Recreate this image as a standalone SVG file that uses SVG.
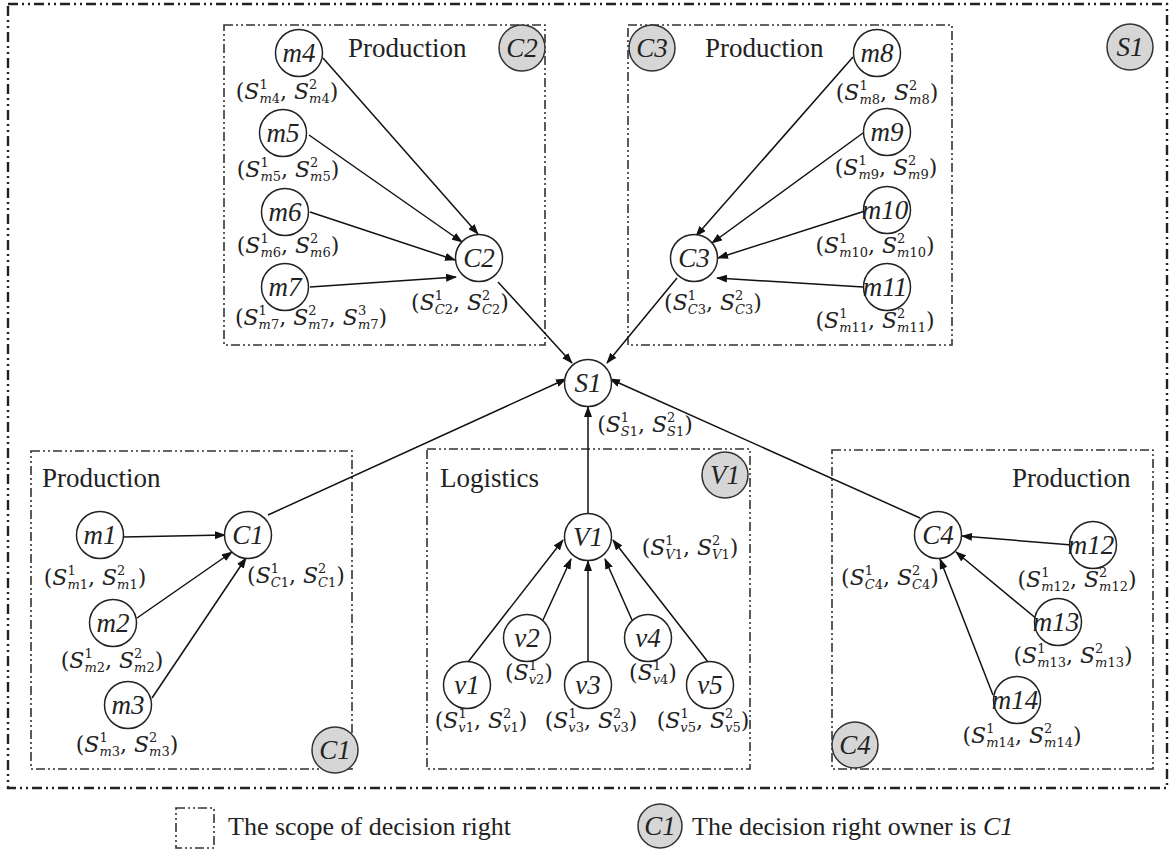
<svg xmlns="http://www.w3.org/2000/svg" width="1172" height="852" viewBox="0 0 1172 852">
<style>
.bg{fill:#fff}
.outer{fill:none;stroke:#222;stroke-width:2.4;stroke-dasharray:10 4 2 4 2 4}
.box{fill:none;stroke:#333;stroke-width:1.6;stroke-dasharray:9 3 2 3 2 3}
.nd{fill:#fff;stroke:#222;stroke-width:1.5}
.bd{fill:#d6d6d6;stroke:#333;stroke-width:1.5}
.nt{font-family:"Liberation Serif",serif;font-style:italic;font-size:27px;text-anchor:middle;fill:#222}
.tt{font-family:"Liberation Serif",serif;font-size:27px;fill:#222}
.lg{font-family:"Liberation Serif",serif;font-size:26px;fill:#222}
.lab{font-family:"DejaVu Serif",serif;font-size:22px;text-anchor:middle;fill:#222}
.i{font-style:italic}
.s{font-size:13px}
.e{fill:none;stroke:#111;stroke-width:1.5;marker-end:url(#ah)}
</style>
<defs>
<marker id="ah" markerWidth="11" markerHeight="8" refX="10" refY="4" orient="auto" markerUnits="userSpaceOnUse"><path d="M0,0 L11,4 L0,8 z" fill="#111"/></marker>
</defs>
<rect class="bg" x="0" y="0" width="1172" height="852"/>
<rect id="scope-S1" class="outer" x="8" y="4" width="1159" height="784"/>
<g id="scopes">
<rect id="scope-C2" class="box" x="224" y="25" width="321" height="320"/>
<rect id="scope-C3" class="box" x="628" y="25" width="324" height="320"/>
<rect id="scope-C1" class="box" x="31" y="451" width="321" height="318"/>
<rect id="scope-V1" class="box" x="427" y="449" width="323" height="320"/>
<rect id="scope-C4" class="box" x="832" y="450" width="321" height="319"/>
</g>
<g id="titles">
<text class="tt" x="348" y="57">Production</text>
<text class="tt" x="705" y="57">Production</text>
<text class="tt" x="42" y="487">Production</text>
<text class="tt" x="440" y="487">Logistics</text>
<text class="tt" x="1012" y="487">Production</text>
</g>
<g id="connectors">
<line class="e" x1="323" y1="58" x2="478" y2="234"/>
<line class="e" x1="309" y1="135" x2="462" y2="242"/>
<line class="e" x1="310" y1="212" x2="455" y2="260"/>
<line class="e" x1="310" y1="287" x2="456" y2="277"/>
<line class="e" x1="498" y1="282" x2="572" y2="363"/>
<line class="e" x1="853" y1="57" x2="696" y2="236"/>
<line class="e" x1="863" y1="133" x2="712" y2="243"/>
<line class="e" x1="865" y1="211" x2="718" y2="258"/>
<line class="e" x1="863" y1="287" x2="717" y2="278"/>
<line class="e" x1="677" y1="278" x2="607" y2="363"/>
<line class="e" x1="123" y1="537" x2="225" y2="535"/>
<line class="e" x1="137" y1="618" x2="232" y2="552"/>
<line class="e" x1="152" y1="698" x2="246" y2="558"/>
<line class="e" x1="268" y1="515" x2="566" y2="379"/>
<line class="e" x1="468" y1="662" x2="563" y2="540"/>
<line class="e" x1="543" y1="620" x2="571" y2="559"/>
<line class="e" x1="588" y1="662" x2="588" y2="561"/>
<line class="e" x1="632" y1="620" x2="605" y2="559"/>
<line class="e" x1="708" y1="662" x2="613" y2="540"/>
<line class="e" x1="588" y1="514" x2="588" y2="407"/>
<line class="e" x1="1072" y1="545" x2="962" y2="536"/>
<line class="e" x1="1038" y1="620" x2="956" y2="552"/>
<line class="e" x1="993" y1="695" x2="940" y2="559"/>
<line class="e" x1="920" y1="518" x2="610" y2="379"/>
</g>
<g id="node-m4"><circle class="nd" cx="299" cy="53" r="23.5"/><text class="nt" x="299" y="62">m4</text>
<text class="lab" x="287" y="99">(<tspan class="i">S</tspan><tspan class="s" dy="-10">1</tspan><tspan class="s" dx="-8.3" dy="14"><tspan class="i">m</tspan>4</tspan><tspan dy="-4">, </tspan><tspan class="i">S</tspan><tspan class="s" dy="-10">2</tspan><tspan class="s" dx="-8.3" dy="14"><tspan class="i">m</tspan>4</tspan><tspan dy="-4">)</tspan></text></g>
<g id="node-m5"><circle class="nd" cx="283" cy="133" r="23.5"/><text class="nt" x="283" y="142">m5</text>
<text class="lab" x="288" y="177">(<tspan class="i">S</tspan><tspan class="s" dy="-10">1</tspan><tspan class="s" dx="-8.3" dy="14"><tspan class="i">m</tspan>5</tspan><tspan dy="-4">, </tspan><tspan class="i">S</tspan><tspan class="s" dy="-10">2</tspan><tspan class="s" dx="-8.3" dy="14"><tspan class="i">m</tspan>5</tspan><tspan dy="-4">)</tspan></text></g>
<g id="node-m6"><circle class="nd" cx="285" cy="212" r="23.5"/><text class="nt" x="285" y="221">m6</text>
<text class="lab" x="288" y="253">(<tspan class="i">S</tspan><tspan class="s" dy="-10">1</tspan><tspan class="s" dx="-8.3" dy="14"><tspan class="i">m</tspan>6</tspan><tspan dy="-4">, </tspan><tspan class="i">S</tspan><tspan class="s" dy="-10">2</tspan><tspan class="s" dx="-8.3" dy="14"><tspan class="i">m</tspan>6</tspan><tspan dy="-4">)</tspan></text></g>
<g id="node-m7"><circle class="nd" cx="285" cy="287" r="23.5"/><text class="nt" x="285" y="296">m7</text>
<text class="lab" x="311" y="325">(<tspan class="i">S</tspan><tspan class="s" dy="-10">1</tspan><tspan class="s" dx="-8.3" dy="14"><tspan class="i">m</tspan>7</tspan><tspan dy="-4">, </tspan><tspan class="i">S</tspan><tspan class="s" dy="-10">2</tspan><tspan class="s" dx="-8.3" dy="14"><tspan class="i">m</tspan>7</tspan><tspan dy="-4">, </tspan><tspan class="i">S</tspan><tspan class="s" dy="-10">3</tspan><tspan class="s" dx="-8.3" dy="14"><tspan class="i">m</tspan>7</tspan><tspan dy="-4">)</tspan></text></g>
<g id="node-C2"><circle class="nd" cx="479" cy="258" r="23.5"/><text class="nt" x="479" y="267">C2</text>
<text class="lab" x="460" y="310">(<tspan class="i">S</tspan><tspan class="s" dy="-10">1</tspan><tspan class="s" dx="-8.3" dy="14"><tspan class="i">C</tspan>2</tspan><tspan dy="-4">, </tspan><tspan class="i">S</tspan><tspan class="s" dy="-10">2</tspan><tspan class="s" dx="-8.3" dy="14"><tspan class="i">C</tspan>2</tspan><tspan dy="-4">)</tspan></text></g>
<g id="node-m8"><circle class="nd" cx="877" cy="53" r="23.5"/><text class="nt" x="877" y="62">m8</text>
<text class="lab" x="887" y="100">(<tspan class="i">S</tspan><tspan class="s" dy="-10">1</tspan><tspan class="s" dx="-8.3" dy="14"><tspan class="i">m</tspan>8</tspan><tspan dy="-4">, </tspan><tspan class="i">S</tspan><tspan class="s" dy="-10">2</tspan><tspan class="s" dx="-8.3" dy="14"><tspan class="i">m</tspan>8</tspan><tspan dy="-4">)</tspan></text></g>
<g id="node-m9"><circle class="nd" cx="887" cy="132" r="23.5"/><text class="nt" x="887" y="141">m9</text>
<text class="lab" x="886" y="175">(<tspan class="i">S</tspan><tspan class="s" dy="-10">1</tspan><tspan class="s" dx="-8.3" dy="14"><tspan class="i">m</tspan>9</tspan><tspan dy="-4">, </tspan><tspan class="i">S</tspan><tspan class="s" dy="-10">2</tspan><tspan class="s" dx="-8.3" dy="14"><tspan class="i">m</tspan>9</tspan><tspan dy="-4">)</tspan></text></g>
<g id="node-m10"><circle class="nd" cx="887" cy="210" r="23.5"/><text class="nt" x="885" y="219">m10</text>
<text class="lab" x="875" y="253">(<tspan class="i">S</tspan><tspan class="s" dy="-10">1</tspan><tspan class="s" dx="-8.3" dy="14"><tspan class="i">m</tspan>10</tspan><tspan dy="-4">, </tspan><tspan class="i">S</tspan><tspan class="s" dy="-10">2</tspan><tspan class="s" dx="-8.3" dy="14"><tspan class="i">m</tspan>10</tspan><tspan dy="-4">)</tspan></text></g>
<g id="node-m11"><circle class="nd" cx="887" cy="287" r="23.5"/><text class="nt" x="885" y="296">m11</text>
<text class="lab" x="875" y="328">(<tspan class="i">S</tspan><tspan class="s" dy="-10">1</tspan><tspan class="s" dx="-8.3" dy="14"><tspan class="i">m</tspan>11</tspan><tspan dy="-4">, </tspan><tspan class="i">S</tspan><tspan class="s" dy="-10">2</tspan><tspan class="s" dx="-8.3" dy="14"><tspan class="i">m</tspan>11</tspan><tspan dy="-4">)</tspan></text></g>
<g id="node-C3"><circle class="nd" cx="694" cy="258" r="23.5"/><text class="nt" x="694" y="267">C3</text>
<text class="lab" x="713" y="310">(<tspan class="i">S</tspan><tspan class="s" dy="-10">1</tspan><tspan class="s" dx="-8.3" dy="14"><tspan class="i">C</tspan>3</tspan><tspan dy="-4">, </tspan><tspan class="i">S</tspan><tspan class="s" dy="-10">2</tspan><tspan class="s" dx="-8.3" dy="14"><tspan class="i">C</tspan>3</tspan><tspan dy="-4">)</tspan></text></g>
<g id="node-S1"><circle class="nd" cx="588" cy="383" r="23.5"/><text class="nt" x="588" y="392">S1</text>
<text class="lab" x="645" y="432">(<tspan class="i">S</tspan><tspan class="s" dy="-10">1</tspan><tspan class="s" dx="-8.3" dy="14"><tspan class="i">S</tspan>1</tspan><tspan dy="-4">, </tspan><tspan class="i">S</tspan><tspan class="s" dy="-10">2</tspan><tspan class="s" dx="-8.3" dy="14"><tspan class="i">S</tspan>1</tspan><tspan dy="-4">)</tspan></text></g>
<g id="node-m1"><circle class="nd" cx="100" cy="535" r="23.5"/><text class="nt" x="100" y="544">m1</text>
<text class="lab" x="95" y="585">(<tspan class="i">S</tspan><tspan class="s" dy="-10">1</tspan><tspan class="s" dx="-8.3" dy="14"><tspan class="i">m</tspan>1</tspan><tspan dy="-4">, </tspan><tspan class="i">S</tspan><tspan class="s" dy="-10">2</tspan><tspan class="s" dx="-8.3" dy="14"><tspan class="i">m</tspan>1</tspan><tspan dy="-4">)</tspan></text></g>
<g id="node-m2"><circle class="nd" cx="113" cy="623" r="23.5"/><text class="nt" x="113" y="632">m2</text>
<text class="lab" x="112" y="668">(<tspan class="i">S</tspan><tspan class="s" dy="-10">1</tspan><tspan class="s" dx="-8.3" dy="14"><tspan class="i">m</tspan>2</tspan><tspan dy="-4">, </tspan><tspan class="i">S</tspan><tspan class="s" dy="-10">2</tspan><tspan class="s" dx="-8.3" dy="14"><tspan class="i">m</tspan>2</tspan><tspan dy="-4">)</tspan></text></g>
<g id="node-m3"><circle class="nd" cx="128" cy="705" r="23.5"/><text class="nt" x="128" y="714">m3</text>
<text class="lab" x="127" y="752">(<tspan class="i">S</tspan><tspan class="s" dy="-10">1</tspan><tspan class="s" dx="-8.3" dy="14"><tspan class="i">m</tspan>3</tspan><tspan dy="-4">, </tspan><tspan class="i">S</tspan><tspan class="s" dy="-10">2</tspan><tspan class="s" dx="-8.3" dy="14"><tspan class="i">m</tspan>3</tspan><tspan dy="-4">)</tspan></text></g>
<g id="node-C1"><circle class="nd" cx="248" cy="535" r="23.5"/><text class="nt" x="248" y="544">C1</text>
<text class="lab" x="296" y="583">(<tspan class="i">S</tspan><tspan class="s" dy="-10">1</tspan><tspan class="s" dx="-8.3" dy="14"><tspan class="i">C</tspan>1</tspan><tspan dy="-4">, </tspan><tspan class="i">S</tspan><tspan class="s" dy="-10">2</tspan><tspan class="s" dx="-8.3" dy="14"><tspan class="i">C</tspan>1</tspan><tspan dy="-4">)</tspan></text></g>
<g id="node-V1"><circle class="nd" cx="588" cy="537" r="23.5"/><text class="nt" x="588" y="546">V1</text>
<text class="lab" x="690" y="555">(<tspan class="i">S</tspan><tspan class="s" dy="-10">1</tspan><tspan class="s" dx="-8.3" dy="14"><tspan class="i">V</tspan>1</tspan><tspan dy="-4">, </tspan><tspan class="i">S</tspan><tspan class="s" dy="-10">2</tspan><tspan class="s" dx="-8.3" dy="14"><tspan class="i">V</tspan>1</tspan><tspan dy="-4">)</tspan></text></g>
<g id="node-v1"><circle class="nd" cx="467" cy="685" r="23.5"/><text class="nt" x="467" y="694">v1</text>
<text class="lab" x="481" y="728">(<tspan class="i">S</tspan><tspan class="s" dy="-10">1</tspan><tspan class="s" dx="-8.3" dy="14"><tspan class="i">v</tspan>1</tspan><tspan dy="-4">, </tspan><tspan class="i">S</tspan><tspan class="s" dy="-10">2</tspan><tspan class="s" dx="-8.3" dy="14"><tspan class="i">v</tspan>1</tspan><tspan dy="-4">)</tspan></text></g>
<g id="node-v2"><circle class="nd" cx="527" cy="638" r="23.5"/><text class="nt" x="527" y="647">v2</text>
<text class="lab" x="529" y="680">(<tspan class="i">S</tspan><tspan class="s" dy="-10">1</tspan><tspan class="s" dx="-8.3" dy="14"><tspan class="i">v</tspan>2</tspan><tspan dy="-4">)</tspan></text></g>
<g id="node-v3"><circle class="nd" cx="588" cy="685" r="23.5"/><text class="nt" x="588" y="694">v3</text>
<text class="lab" x="591" y="728">(<tspan class="i">S</tspan><tspan class="s" dy="-10">1</tspan><tspan class="s" dx="-8.3" dy="14"><tspan class="i">v</tspan>3</tspan><tspan dy="-4">, </tspan><tspan class="i">S</tspan><tspan class="s" dy="-10">2</tspan><tspan class="s" dx="-8.3" dy="14"><tspan class="i">v</tspan>3</tspan><tspan dy="-4">)</tspan></text></g>
<g id="node-v4"><circle class="nd" cx="648" cy="638" r="23.5"/><text class="nt" x="648" y="647">v4</text>
<text class="lab" x="653" y="680">(<tspan class="i">S</tspan><tspan class="s" dy="-10">1</tspan><tspan class="s" dx="-8.3" dy="14"><tspan class="i">v</tspan>4</tspan><tspan dy="-4">)</tspan></text></g>
<g id="node-v5"><circle class="nd" cx="710" cy="685" r="23.5"/><text class="nt" x="710" y="694">v5</text>
<text class="lab" x="703" y="728">(<tspan class="i">S</tspan><tspan class="s" dy="-10">1</tspan><tspan class="s" dx="-8.3" dy="14"><tspan class="i">v</tspan>5</tspan><tspan dy="-4">, </tspan><tspan class="i">S</tspan><tspan class="s" dy="-10">2</tspan><tspan class="s" dx="-8.3" dy="14"><tspan class="i">v</tspan>5</tspan><tspan dy="-4">)</tspan></text></g>
<g id="node-C4"><circle class="nd" cx="938" cy="535" r="23.5"/><text class="nt" x="938" y="544">C4</text>
<text class="lab" x="890" y="585">(<tspan class="i">S</tspan><tspan class="s" dy="-10">1</tspan><tspan class="s" dx="-8.3" dy="14"><tspan class="i">C</tspan>4</tspan><tspan dy="-4">, </tspan><tspan class="i">S</tspan><tspan class="s" dy="-10">2</tspan><tspan class="s" dx="-8.3" dy="14"><tspan class="i">C</tspan>4</tspan><tspan dy="-4">)</tspan></text></g>
<g id="node-m12"><circle class="nd" cx="1093" cy="545" r="23.5"/><text class="nt" x="1091" y="554">m12</text>
<text class="lab" x="1077" y="587">(<tspan class="i">S</tspan><tspan class="s" dy="-10">1</tspan><tspan class="s" dx="-8.3" dy="14"><tspan class="i">m</tspan>12</tspan><tspan dy="-4">, </tspan><tspan class="i">S</tspan><tspan class="s" dy="-10">2</tspan><tspan class="s" dx="-8.3" dy="14"><tspan class="i">m</tspan>12</tspan><tspan dy="-4">)</tspan></text></g>
<g id="node-m13"><circle class="nd" cx="1058" cy="622" r="23.5"/><text class="nt" x="1056" y="631">m13</text>
<text class="lab" x="1073" y="663">(<tspan class="i">S</tspan><tspan class="s" dy="-10">1</tspan><tspan class="s" dx="-8.3" dy="14"><tspan class="i">m</tspan>13</tspan><tspan dy="-4">, </tspan><tspan class="i">S</tspan><tspan class="s" dy="-10">2</tspan><tspan class="s" dx="-8.3" dy="14"><tspan class="i">m</tspan>13</tspan><tspan dy="-4">)</tspan></text></g>
<g id="node-m14"><circle class="nd" cx="1017" cy="700" r="23.5"/><text class="nt" x="1015" y="709">m14</text>
<text class="lab" x="1022" y="743">(<tspan class="i">S</tspan><tspan class="s" dy="-10">1</tspan><tspan class="s" dx="-8.3" dy="14"><tspan class="i">m</tspan>14</tspan><tspan dy="-4">, </tspan><tspan class="i">S</tspan><tspan class="s" dy="-10">2</tspan><tspan class="s" dx="-8.3" dy="14"><tspan class="i">m</tspan>14</tspan><tspan dy="-4">)</tspan></text></g>
<g id="owner-C2"><circle class="bd" cx="522" cy="48" r="23"/><text class="nt" x="522" y="57">C2</text></g>
<g id="owner-C3"><circle class="bd" cx="652" cy="48" r="23"/><text class="nt" x="652" y="57">C3</text></g>
<g id="owner-S1"><circle class="bd" cx="1130" cy="47" r="23"/><text class="nt" x="1130" y="56">S1</text></g>
<g id="owner-C1"><circle class="bd" cx="335" cy="750" r="23"/><text class="nt" x="335" y="759">C1</text></g>
<g id="owner-V1"><circle class="bd" cx="725" cy="475" r="23"/><text class="nt" x="725" y="484">V1</text></g>
<g id="owner-C4"><circle class="bd" cx="855" cy="745" r="23"/><text class="nt" x="855" y="754">C4</text></g>
<g id="legend">
<rect class="box" x="176" y="808" width="38" height="40"/>
<text class="lg" x="228" y="835">The scope of decision right</text>
<circle class="bd" cx="660" cy="826" r="22"/><text class="nt" x="660" y="835">C1</text>
<text class="lg" x="692" y="835">The decision right owner is <tspan class="i">C1</tspan></text>
</g>
</svg>
